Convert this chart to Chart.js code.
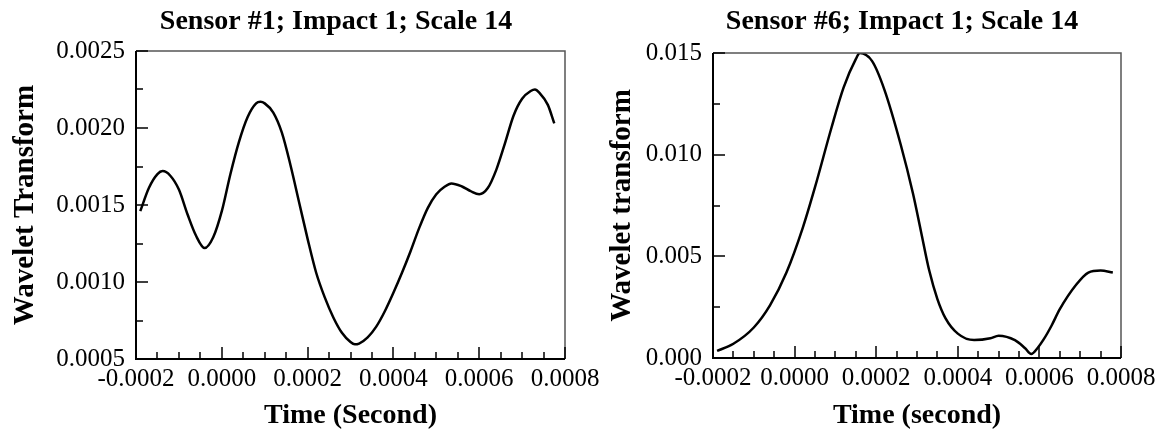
<!DOCTYPE html>
<html>
<head>
  <title>Wavelet Transform - Impact 1</title>
  <script src="https://cdn.jsdelivr.net/npm/chart.js"></script>
  <style>
    body { margin: 0; background: white; overflow: hidden; width: 1155px; height: 439px; position: relative; }
    canvas { position: absolute; top: 0; }
    #left { left: 0; }
    #right { left: 580px; }
  </style>
</head>
<body>
<canvas id="left" width="668" height="439"></canvas>
<canvas id="right" width="623" height="439"></canvas>

<script>
// sensor #1
const leftTime = [-0.00019, -0.00017, -0.00015, -0.000138, -0.00012, -0.0001, -0.00008, -0.00006, -0.00004, -0.00002,
  0.0, 0.00002, 0.00004, 0.00006, 0.00008, 0.00009, 0.0001, 0.00012, 0.00014, 0.00016, 0.00018, 0.0002, 0.00022,
  0.00024, 0.00026, 0.00028, 0.0003, 0.00031, 0.00032, 0.00034, 0.00036, 0.00038, 0.0004, 0.00042, 0.00044, 0.00046,
  0.00048, 0.0005, 0.00052, 0.000535, 0.00056, 0.00058, 0.0006, 0.00062, 0.00064, 0.00066, 0.00068, 0.0007, 0.00072,
  0.00073, 0.00074, 0.00076, 0.000775];
const leftValue = [0.00146, 0.00161, 0.00170, 0.00172, 0.00169, 0.00160, 0.00144, 0.00130, 0.00122, 0.00129,
  0.00146, 0.00170, 0.00191, 0.00207, 0.00216, 0.00217, 0.00216, 0.00210, 0.00197, 0.00176, 0.00152, 0.00128, 0.00106,
  0.00090, 0.00077, 0.00067, 0.00061, 0.000595, 0.00060, 0.00064, 0.00071, 0.00081, 0.00093, 0.00106, 0.00120, 0.00135,
  0.00148, 0.00157, 0.00162, 0.00164, 0.00162, 0.00159, 0.00157, 0.00161, 0.00173, 0.00190, 0.00208, 0.00219, 0.00224,
  0.00225, 0.00223, 0.00215, 0.00203];

// sensor #6
const rightTime = [-0.00019, -0.00015, -0.0001, -0.00006, -0.00002, 0.00002, 0.00005, 0.00009, 0.00012, 0.00015,
  0.00016, 0.00019, 0.00022, 0.00026, 0.00029, 0.00031, 0.00033, 0.00035, 0.00037, 0.0004, 0.00044, 0.00048, 0.0005,
  0.00054, 0.000565, 0.00058, 0.000595, 0.00061, 0.00063, 0.00065, 0.00069, 0.00072, 0.00075, 0.00078];
const rightValue = [0.00035, 0.0007, 0.0015, 0.0026, 0.0042, 0.0064, 0.0084, 0.0113, 0.0133, 0.0147,
  0.0150, 0.0146, 0.0132, 0.0105, 0.0081, 0.0062, 0.0043, 0.0029, 0.00195, 0.0012, 0.00088, 0.00097, 0.0011,
  0.00088, 0.00048, 0.0002, 0.00048, 0.0009, 0.0016, 0.0024, 0.0036, 0.0042, 0.0043, 0.0042];

const xTicks = [-0.0002, 0.0, 0.0002, 0.0004, 0.0006, 0.0008];
const leftYTicks = [0.0005, 0.0010, 0.0015, 0.0020, 0.0025];
const rightYTicks = [0.000, 0.005, 0.010, 0.015];

Chart.defaults.font.family = "'Liberation Serif', 'Times New Roman', serif";
Chart.defaults.color = '#000';

// inward tick marks + frame box
const frameTicks = {
  id: 'frameTicks',
  afterDraw(chart, args, o) {
    const { ctx, chartArea: a, scales: { x, y } } = chart;
    ctx.save();
    ctx.strokeStyle = '#555';
    ctx.lineWidth = 1.5;
    ctx.beginPath();
    ctx.moveTo(a.left, a.top); ctx.lineTo(a.right, a.top); ctx.lineTo(a.right, a.bottom);
    ctx.stroke();
    ctx.strokeStyle = '#000';
    ctx.lineWidth = 2;
    ctx.beginPath();
    ctx.moveTo(a.left, a.top); ctx.lineTo(a.left, a.bottom); ctx.lineTo(a.right, a.bottom);
    ctx.stroke();
    ctx.lineWidth = 1.5;
    ctx.beginPath();
    const xs = (x.max - x.min) / o.xMinor;
    for (let i = 0; i <= o.xMinor; i++) {
      const px = Math.round(x.getPixelForValue(x.min + i * xs));
      const len = i % o.xEvery === 0 ? 12 : 7;
      ctx.moveTo(px, a.bottom); ctx.lineTo(px, a.bottom - len);
    }
    const ys = (y.max - y.min) / o.yMinor;
    for (let i = 0; i <= o.yMinor; i++) {
      const py = Math.round(y.getPixelForValue(y.min + i * ys));
      const len = i % o.yEvery === 0 ? 12 : 7;
      ctx.moveTo(a.left, py); ctx.lineTo(a.left + len, py);
    }
    ctx.stroke();
    ctx.restore();
  }
};

function makeChart(id, opt) {
  return new Chart(document.getElementById(id), {
    type: 'scatter',
    data: {
      datasets: [{
        data: opt.time.map((t, i) => ({ x: t, y: opt.value[i] })),
        showLine: true,
        borderColor: '#000',
        borderWidth: 2.5,
        pointRadius: 0,
        cubicInterpolationMode: 'monotone'
      }]
    },
    options: {
      responsive: false,
      animation: false,
      devicePixelRatio: 1,
      layout: { padding: { left: opt.padLeft, right: 0, top: 0, bottom: 0 } },
      plugins: {
        legend: { display: false },
        tooltip: { enabled: false },
        title: {
          display: true,
          text: opt.title,
          font: { size: 28, weight: 'bold' },
          padding: { top: 5, bottom: opt.titleGap }
        },
        frameTicks: opt.frame
      },
      scales: {
        x: {
          type: 'linear',
          min: xTicks[0], max: xTicks[xTicks.length - 1],
          grid: { display: false, drawTicks: false },
          border: { display: false },
          afterBuildTicks: s => { s.ticks = xTicks.map(v => ({ value: v })); },
          afterFit: s => { s.height = opt.xHeight; },
          ticks: {
            autoSkip: false, maxRotation: 0, padding: 5,
            font: { size: 25 },
            callback: v => (Math.abs(v) < 1e-12 ? 0 : v).toFixed(4)
          },
          title: {
            display: true, text: opt.xTitle,
            font: { size: 28, weight: 'bold' },
            padding: { top: 0, bottom: 6 }
          }
        },
        y: {
          type: 'linear',
          min: opt.yTicks[0], max: opt.yTicks[opt.yTicks.length - 1],
          grid: { display: false, drawTicks: false },
          border: { display: false },
          afterBuildTicks: s => { s.ticks = opt.yTicks.map(v => ({ value: v })); },
          afterFit: s => { s.width = opt.yWidth; },
          ticks: {
            padding: 11,
            font: { size: 25 },
            callback: v => v.toFixed(opt.yDigits)
          },
          title: {
            display: true, text: opt.yTitle,
            font: { size: 29, weight: 'bold' },
            padding: { top: 4, bottom: 0 }
          }
        },
        // empty room on the right so the title centre lands where it does in the original
        spacer: {
          type: 'linear', position: 'right', min: 0, max: 1,
          grid: { display: false, drawTicks: false },
          border: { display: false },
          ticks: { display: false },
          afterFit: s => { s.width = opt.rightRoom; }
        }
      }
    },
    plugins: [frameTicks]
  });
}

makeChart('left', {
  time: leftTime, value: leftValue, yTicks: leftYTicks, yDigits: 4,
  title: 'Sensor #1; Impact 1; Scale 14',
  xTitle: 'Time (Second)', yTitle: 'Wavelet Transform',
  padLeft: 4, yWidth: 132, rightRoom: 103, titleGap: 12.4, xHeight: 80,
  frame: { xMinor: 20, xEvery: 4, yMinor: 8, yEvery: 2 }
});

makeChart('right', {
  time: rightTime, value: rightValue, yTicks: rightYTicks, yDigits: 3,
  title: 'Sensor #6; Impact 1; Scale 14',
  xTitle: 'Time (second)', yTitle: 'Wavelet transform',
  padLeft: 21, yWidth: 112, rightRoom: 82, titleGap: 14.4, xHeight: 81,
  frame: { xMinor: 20, xEvery: 4, yMinor: 6, yEvery: 2 }
});
</script>
</body>
</html>
